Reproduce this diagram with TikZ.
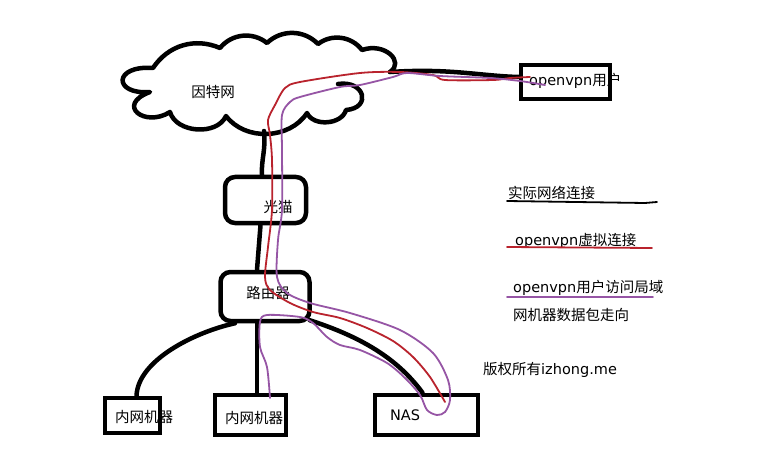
\documentclass[tikz,border=0pt]{standalone}
\usepackage{fontspec}
\newfontfamily\cjk{Noto Sans CJK SC}
\newfontfamily\lat{DejaVu Sans}
\usetikzlibrary{calc}
\definecolor{vpnred}{RGB}{185,35,45}
\definecolor{vpnpurple}{RGB}{150,85,165}
\tikzset{
  net/.style={line width=4.5pt, line cap=round, line join=round},
  box/.style={draw, line width=4.5pt, inner sep=0pt},
  rbox/.style={box, rounded corners=10pt},
  lbl/.style={inner sep=0pt, font=\cjk\fontsize{14.5}{16}\selectfont},
  redpath/.style={vpnred, line width=1.8pt, line cap=round, line join=round},
  purplepath/.style={vpnpurple, line width=1.8pt, line cap=round, line join=round},
}
\begin{document}
\begin{tikzpicture}[x=1pt,y=-1pt]
\useasboundingbox[fill=white] (0,0) rectangle (765,449);

% cloud
\coordinate (c0) at (338,84);
\coordinate (c1) at (346,110);
\coordinate (c2) at (307,113);
\coordinate (c3) at (226,116);
\coordinate (c4) at (170,112);
\coordinate (c5) at (150,92);
\coordinate (c6) at (153,68);
\coordinate (c7) at (220,48);
\coordinate (c8) at (267,43);
\coordinate (c9) at (318,44);
\coordinate (c10) at (362,50);
\coordinate (cloudr) at (390,72);
\coordinate (cloudb) at (264,131);
\draw[net] (c0) .. controls (365,80) and (372,108) .. (c1)
  to[bend left=70] (c2) to[bend left=55] (c3)
  to[bend left=70] (c4) .. controls (145,128) and (115,105) .. (c5)
  .. controls (113,95) and (113,65) .. (c6)
  to[bend left=40] (c7) to[bend left=45] (c8) to[bend left=45] (c9)
  to[bend left=45] (c10) .. controls (385,42) and (405,62) .. (cloudr);
\node[lbl] (inet) at (213,92) {因特网};

% boxes
\node[box, minimum width=89pt, minimum height=34pt] (vpn) at (565.5,82) {};
\node[rbox, minimum width=81pt, minimum height=46pt] (gm) at (265.5,200) {};
\node[rbox, minimum width=89pt, minimum height=49pt] (rt) at (265,296.5) {};
\node[box, minimum width=55pt, minimum height=35pt] (pc1) at (132.5,415.5) {};
\node[box, minimum width=71pt, minimum height=40pt] (pc2) at (250.5,415) {};
\node[box, minimum width=103pt, minimum height=40pt] (nas) at (426.5,415) {};

% black connectors
\draw[net] (cloudr) .. controls (450,68) and (480,76) .. ([yshift=5pt]vpn.west);
\draw[net] (cloudb) .. controls (266,150) and (261,160) .. ([xshift=-3.5pt]gm.north);
\draw[net] ([xshift=-5pt]gm.south) -- ([xshift=-8pt]rt.north);
\draw[net] ([xshift=-30pt]rt.south) .. controls (195,332) and (138,360) .. ([xshift=4pt]pc1.north);
\draw[net] ([xshift=-8pt]rt.south) -- ([xshift=-8pt]rt.south |- pc2.north);
\draw[net] ([xshift=-2pt,yshift=3pt]rt.south east) .. controls (355,335) and (395,355) .. ([xshift=-4pt]nas.north);

% labels
\node[lbl, anchor=west] (vpnl) at (529,81) {{\lat openvpn}用户};
\node[lbl] (gml) at (278,207) {光猫};
\node[lbl] (rtl) at (268,293) {路由器};
\node[lbl, anchor=west] (pc1l) at (115,417) {内网机器};
\node[lbl, anchor=west] (pc2l) at (225,418) {内网机器};
\node[lbl] (nasl) at (405,415) {\lat NAS};

% red path
\draw[redpath] plot[smooth, tension=0.5] coordinates {
 (530,77) (510,78) (493,80) (445,80) (433,75) (400,72) (360,73) (300,82) (285,88)
 (275,105) (268,120) (270,135) (272,160) (272,210) (268,247) (265,277) (270,290)
 (290,303) (313,312) (340,318) (367,328) (393,341) (413,357) (430,377) (445,402)};
% purple path
\draw[purplepath] plot[smooth, tension=0.5] coordinates {
 (545,85) (520,81) (490,78) (440,76) (407,73) (393,77) (360,85) (340,87) (300,97)
 (290,102) (282,115) (282,150) (282,210) (278,240) (277,277) (287,293) (310,303)
 (350,313) (400,330) (433,353) (448,380) (450,400) (445,412) (437,415) (427,410)
 (420,395) (405,378) (387,363) (360,350) (340,345) (327,337) (313,323) (300,317)
 (267,315) (260,322) (260,347) (267,367) (270,398)};

% legend
\node[lbl, anchor=west] (lg1) at (508,193) {实际网络连接};
\draw[line width=1.8pt, line cap=round] (507,201) -- (645,203) -- (657,202);
\node[lbl, anchor=west] (lg2) at (515,241) {{\lat openvpn}虚拟连接};
\draw[redpath] (507,247) -- (652,248);
\node[lbl, anchor=west] (lg3) at (513,288) {{\lat openvpn}用户访问局域};
\draw[purplepath] (507,297) -- (653,297);
\node[lbl, anchor=west] (lg4) at (513,315) {网机器数据包走向};
\node[lbl, anchor=west] (copy) at (483,370) {版权所有{\lat izhong.me}};
\end{tikzpicture}
\end{document}
